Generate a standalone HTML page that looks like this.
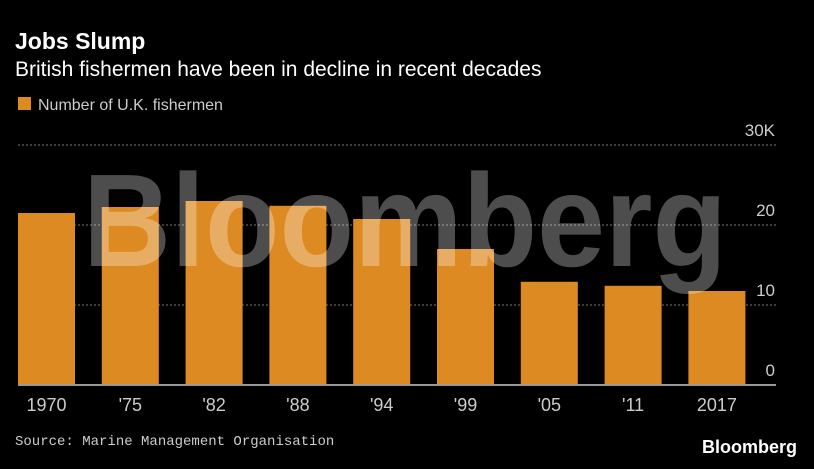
<!DOCTYPE html>
<html><head><meta charset="utf-8"><style>
body{margin:0;background:#000;width:814px;height:464px;overflow:hidden;font-family:"Liberation Sans",sans-serif}
</style></head><body>
<svg width="814" height="464" xmlns="http://www.w3.org/2000/svg">
<rect width="814" height="464" fill="#000"/>
<text x="15" y="49" fill="#fff" font-size="23" font-weight="bold" font-family="Liberation Sans, sans-serif">Jobs Slump</text>
<text x="15" y="76" fill="#fff" font-size="21" font-family="Liberation Sans, sans-serif">British fishermen have been in decline in recent decades</text>
<rect x="18" y="97" width="13" height="13" fill="#de8a22"/>
<text x="38" y="110" fill="#ccc" font-size="16" font-family="Liberation Sans, sans-serif">Number of U.K. fishermen</text>
<g id="grid"></g><g id="bars"></g><g id="xlabels"></g><g id="ylabels"></g>
<line x1="18" x2="776" y1="385" y2="385" stroke="#999" stroke-width="2"/>
<text x="405" y="266" text-anchor="middle" font-size="132" font-weight="bold" fill="#fff" fill-opacity="0.3" textLength="644" lengthAdjust="spacingAndGlyphs" font-family="Liberation Sans, sans-serif">Bloomberg</text>
<text x="15" y="445" fill="#ccc" font-size="14" font-family="Liberation Mono, monospace">Source: Marine Management Organisation</text>
<text x="797" y="453" text-anchor="end" fill="#fff" font-size="18" font-weight="bold" font-family="Liberation Sans, sans-serif">Bloomberg</text>
</svg>
<script>
const categories=["1970","'75","'82","'88","'94","'99","'05","'11","2017"];
const values=[21.5,22.25,23,22.4,20.75,17,12.9,12.4,11.75];
const yTicks=[0,10,20,30];
const yTickLabels=["0","10","20","30K"];
const NS="http://www.w3.org/2000/svg";
const y=v=>385-v*8;
const x=i=>18+i*83.8;
const bw=57;
function mk(t,a,p){const e=document.createElementNS(NS,t);for(const k in a)e.setAttribute(k,a[k]);p.appendChild(e);return e;}
const g=document.getElementById('grid'),b=document.getElementById('bars'),xl=document.getElementById('xlabels'),yl=document.getElementById('ylabels');
yTicks.forEach((t,i)=>{
 if(t>0){const l=mk('line',{x1:18,x2:776,y1:y(t),y2:y(t),stroke:'#777','stroke-dasharray':'2,2'},g);
 
 }
 const tx=mk('text',{x:775,y:y(t)-9,'text-anchor':'end',fill:'#ccc','font-size':17,'font-family':'Liberation Sans Narrow, Liberation Sans, sans-serif'},yl);
 tx.textContent=yTickLabels[i];
 
 
});
categories.forEach((c,i)=>{
 const r=mk('rect',{x:x(i),y:y(values[i]),width:bw,height:385-y(values[i]),fill:'#de8a22'},b);
 
 
 const t=mk('text',{x:x(i)+bw/2,y:411,'text-anchor':'middle',fill:'#ccc','font-size':18,'font-family':'Liberation Sans Narrow, Liberation Sans, sans-serif'},xl);
 t.textContent=c;
 
 
});
</script>
</body></html>
